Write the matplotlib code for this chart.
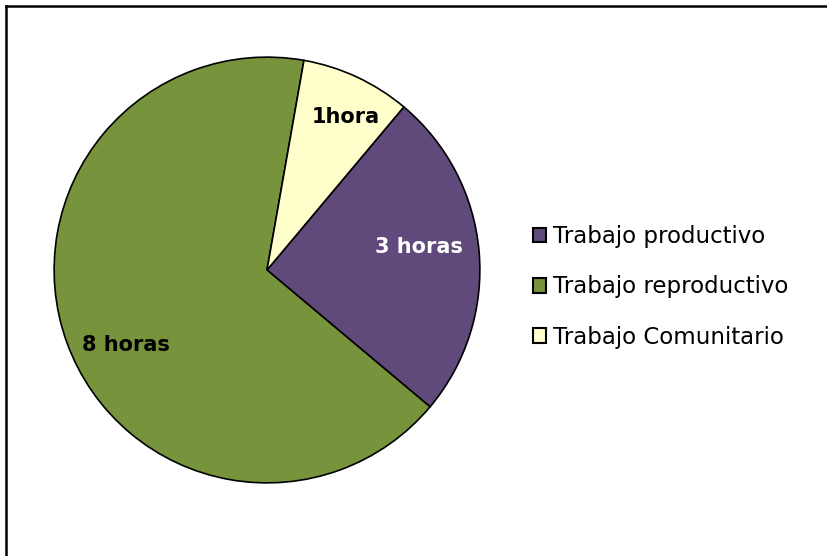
import numpy as np
import matplotlib.pyplot as plt
from matplotlib.lines import Line2D

# data (hours per day)
categories = ["Trabajo productivo", "Trabajo reproductivo", "Trabajo Comunitario"]
hours = [3, 8, 1]
value_labels = ["3 horas", "8 horas", "1hora"]
colors = ["#604A7B", "#77933C", "#FFFFCC"]
label_colors = ["white", "black", "black"]
# label placement inside each slice: radial distance, angle shift (deg)
label_dist = [0.72, 0.75, 0.81]
label_shift = [3.6, 8.0, -2.2]

W, H = 827, 556
fig = plt.figure(figsize=(W / 100, H / 100), dpi=100)

# pie centre (267, 270) px, radius 215 px
cx, cy, r = 267, 270, 215
ax = fig.add_axes([(cx - r) / W, (H - cy - r) / H, 2 * r / W, 2 * r / H])
wedges, _ = ax.pie(hours, colors=colors, startangle=50, counterclock=False,
                   radius=1.0,
                   wedgeprops=dict(edgecolor="black", linewidth=1.2))
ax.set_xlim(-1.01, 1.01)
ax.set_ylim(-1.01, 1.01)
ax.set_aspect("equal")
ax.axis("off")

# value labels inside slices
for w, txt, c, d, s in zip(wedges, value_labels, label_colors, label_dist, label_shift):
    ang = np.deg2rad((w.theta1 + w.theta2) / 2 + s)
    ax.text(d * np.cos(ang), d * np.sin(ang), txt, ha="center", va="center",
            fontsize=15, fontweight="bold", color=c)

leg = fig.legend(wedges, categories, loc="center left",
                 bbox_to_anchor=(512 / W, 1 - 287 / H), frameon=False,
                 fontsize=16.5, handlelength=0.6, handleheight=0.6,
                 handletextpad=0.3, labelspacing=1.19)
for h in leg.legend_handles:
    h.set_edgecolor("black")
    h.set_linewidth(1.5)

# chart-area border (cut off at right and bottom)
fig.add_artist(Line2D([5.5 / W, 5.5 / W], [0, 1 - 5.5 / H], color="black",
                      linewidth=1.8, transform=fig.transFigure))
fig.add_artist(Line2D([5.5 / W, 1], [1 - 5.5 / H, 1 - 5.5 / H], color="black",
                      linewidth=1.8, transform=fig.transFigure))

fig.savefig("out.png", dpi=100)
